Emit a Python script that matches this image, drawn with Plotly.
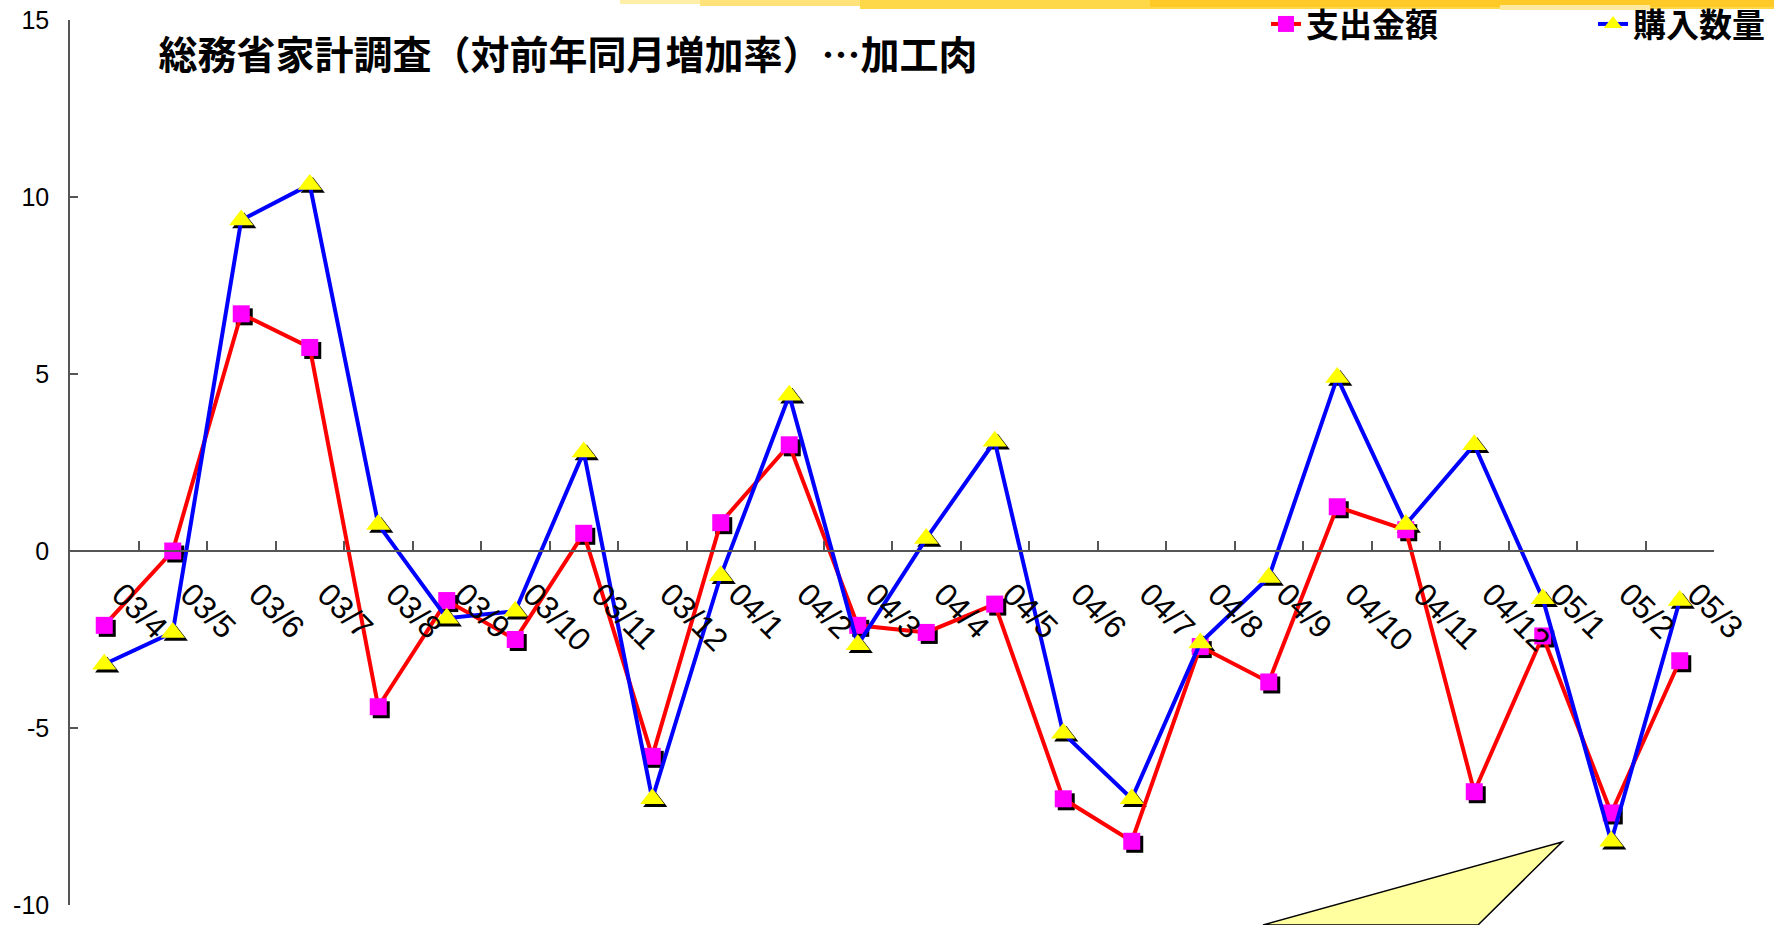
import plotly.graph_objects as go

# ---------------- data ----------------
categories = ["03/4", "03/5", "03/6", "03/7", "03/8", "03/9", "03/10", "03/11", "03/12",
              "04/1", "04/2", "04/3", "04/4", "04/5", "04/6", "04/7", "04/8", "04/9",
              "04/10", "04/11", "04/12", "05/1", "05/2", "05/3"]
spending = [-2.1, 0.0, 6.7, 5.75, -4.4, -1.4, -2.5, 0.5, -5.8, 0.8, 3.0, -2.1,
            -2.3, -1.5, -7.0, -8.2, -2.7, -3.7, 1.25, 0.6, -6.8, -2.4, -7.4, -3.1]
quantity = [-3.2, -2.3, 9.35, 10.35, 0.75, -1.9, -1.7, 2.8, -7.0, -0.7, 4.4, -2.65,
            0.35, 3.1, -5.15, -7.0, -2.6, -0.75, 4.9, 0.75, 3.0, -1.35, -8.2, -1.4]
series_names = ["支出金額", "購入数量"]
y_tick_vals = [-10, -5, 0, 5, 10, 15]
y_tick_text = ["-10", "-5", "0", "5", "10", "15"]
title_text = "総務省家計調査（対前年同月増加率）…加工肉"

# ---------------- geometry (page pixels; body margin removed below) ----------------
OFF = 0
W, H = 1774, 925
PLOT_L, PLOT_R, PLOT_T, PLOT_B = 70, 1714, 20, 905   # target plot area on the page
PW, PH = PLOT_R - PLOT_L, PLOT_B - PLOT_T
ML, MT = PLOT_L - OFF, PLOT_T - OFF
MR, MB = W - ML - PW, H - MT - PH
Y_RANGE = [-10, 15]
X_RANGE = [-0.5, len(categories) - 0.5]
SH_PX = 3  # marker shadow offset in px
dx = SH_PX * (X_RANGE[1] - X_RANGE[0]) / PW
dy = SH_PX * (Y_RANGE[1] - Y_RANGE[0]) / PH


def px(xp):
    return (xp - PLOT_L) / PW


def py(yp):
    return (PLOT_B - yp) / PH


CJK = "Noto Sans CJK JP"
LAT = "Arial, Liberation Sans, sans-serif"

fig = go.Figure()

# shadows (drawn on shifted hidden axes, beneath)
fig.add_trace(go.Scatter(x=categories, y=spending, mode="markers", xaxis="x", yaxis="y",
                         marker=dict(symbol="square", size=17, color="black"),
                         showlegend=False, hoverinfo="skip"))
fig.add_trace(go.Scatter(x=categories, y=quantity, mode="markers", xaxis="x", yaxis="y",
                         marker=dict(symbol="triangle-up", size=21, color="black"),
                         showlegend=False, hoverinfo="skip"))

# main series
fig.add_trace(go.Scatter(x=categories, y=spending, mode="lines+markers", name="<b>" + series_names[0] + "</b>",
                         xaxis="x2", yaxis="y2", legend="legend",
                         line=dict(color="#FF0000", width=4),
                         marker=dict(symbol="square", size=17, color="#FF00FF",
                                     line=dict(width=0))))
fig.add_trace(go.Scatter(x=categories, y=quantity, mode="lines+markers", name="<b>" + series_names[1] + "</b>",
                         xaxis="x2", yaxis="y2", legend="legend2",
                         line=dict(color="#0000FF", width=4),
                         marker=dict(symbol="triangle-up", size=21, color="#FFFF00",
                                     line=dict(width=0))))

shapes = []
# top decorative brush band
band = [
    ("#FFEFA8", 620, 0, 900, 4),
    ("#FFE27A", 700, 0, 1774, 6),
    ("#FFD84A", 860, 0, 1774, 9),
    ("#FFC928", 1150, 0, 1774, 7),
    ("#FFE9A0", 1500, 5, 1650, 10),
]
for col, x0, y0, x1, y1 in band:
    shapes.append(dict(type="rect", xref="paper", yref="paper", x0=px(x0), x1=px(x1),
                       y0=py(y0), y1=py(y1), fillcolor=col, line=dict(width=0), layer="below"))
# callout triangle
shapes.append(dict(type="path", xref="paper", yref="paper",
                   path=f"M {px(1263)},{py(925)} L {px(1562)},{py(842)} L {px(1478)},{py(925)} Z",
                   fillcolor="#FFFF9F", line=dict(color="black", width=1.5), layer="above"))

legend_common = dict(orientation="h", xanchor="left", yanchor="middle",
                     font=dict(family=CJK, size=33, color="black"),
                     bgcolor="rgba(0,0,0,0)", borderwidth=0)

fig.update_layout(
    width=W, height=H,
    margin=dict(l=ML, r=MR, t=MT, b=MB, autoexpand=False),
    paper_bgcolor="white", plot_bgcolor="white",
    title=dict(text="<b>" + title_text + "</b>", x=(568 - OFF) / W, y=1 - (55 - OFF) / H,
               xanchor="center", yanchor="middle",
               font=dict(family=CJK, size=39, color="black")),
    xaxis=dict(type="category", range=[X_RANGE[0] - dx, X_RANGE[1] - dx], visible=False,
               categoryorder="array", categoryarray=categories),
    yaxis=dict(range=[Y_RANGE[0] + dy, Y_RANGE[1] + dy], visible=False),
    xaxis2=dict(type="category", overlaying="x", range=X_RANGE, anchor="free", position=0.4,
                categoryorder="array", categoryarray=categories,
                tickson="boundaries", ticks="inside", ticklen=9, tickcolor="#555555", tickwidth=1.5,
                showline=True, linecolor="#555555", linewidth=1.5, showgrid=False, zeroline=False,
                tickangle=45, ticklabelstandoff=11, ticklabelshift=17,
                tickfont=dict(family=LAT, size=32, color="black")),
    yaxis2=dict(overlaying="y", range=Y_RANGE, side="left", anchor="x2",
                tickmode="array", tickvals=y_tick_vals, ticktext=y_tick_text,
                ticks="inside", ticklen=8, tickcolor="#555555", tickwidth=1.5,
                showline=True, linecolor="#555555", linewidth=1.5, showgrid=False, zeroline=False,
                ticklabelstandoff=14, ticklabeloverflow="allow",
                tickfont=dict(family=LAT, size=25, color="black")),
    legend=dict(x=px(1266), y=py(24), **legend_common),
    legend2=dict(x=px(1593), y=py(24), **legend_common),
    shapes=shapes,
    showlegend=True,
)

fig.write_html("out.html", config={"displayModeBar": False},
               post_script="document.body.style.margin='0px';")
